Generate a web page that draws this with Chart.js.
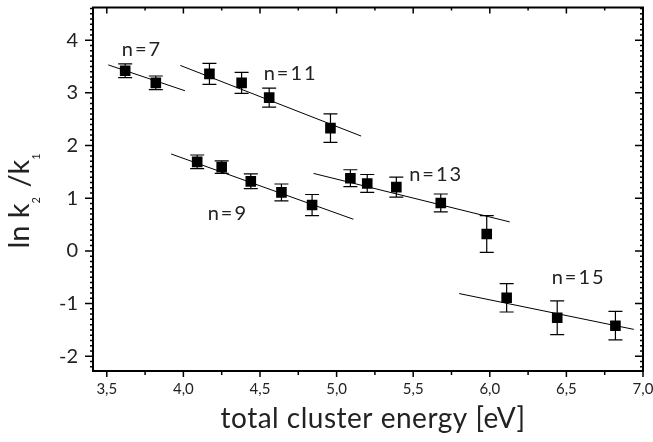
<!DOCTYPE html>
<html>
<head>
<meta charset="utf-8">
<script src="https://cdn.jsdelivr.net/npm/chart.js@4.4.0/dist/chart.umd.min.js"></script>
<style>
html, body { margin: 0; padding: 0; background: #fff; }
canvas { display: block; }
</style>
</head>
<body>
<canvas id="myChart" width="653" height="442"></canvas>
<script>
// values: total cluster energy [eV], ln k2/k1, error bar half height
const energy7 = [3.62, 3.82];
const lnk7 = [3.42, 3.19];
const err7 = [0.13, 0.13];
const fitX7 = [3.51, 4.01];
const fitY7 = [3.53, 3.04];

const energy9 = [4.09, 4.25, 4.44, 4.64, 4.84];
const lnk9 = [1.69, 1.59, 1.32, 1.11, 0.87];
const err9 = [0.13, 0.12, 0.14, 0.16, 0.2];
const fitX9 = [3.92, 5.11];
const fitY9 = [1.84, 0.60];

const energy11 = [4.17, 4.38, 4.56, 4.96];
const lnk11 = [3.36, 3.19, 2.91, 2.33];
const err11 = [0.2, 0.2, 0.18, 0.27];
const fitX11 = [3.98, 5.16];
const fitY11 = [3.52, 2.18];

const energy13 = [5.09, 5.20, 5.39, 5.68, 5.98];
const lnk13 = [1.38, 1.28, 1.21, 0.91, 0.32];
const err13 = [0.16, 0.17, 0.19, 0.17, 0.35];
const fitX13 = [4.85, 6.13];
const fitY13 = [1.47, 0.55];

const energy15 = [6.11, 6.44, 6.82];
const lnk15 = [-0.89, -1.27, -1.42];
const err15 = [0.27, 0.32, 0.27];
const fitX15 = [5.80, 6.94];
const fitY15 = [-0.81, -1.49];

const groupNames = ['n=7', 'n=9', 'n=11', 'n=13', 'n=15'];
const xTicks = [3.5, 4.0, 4.5, 5.0, 5.5, 6.0, 6.5, 7.0];
const yTicks = [-2, -1, 0, 1, 2, 3, 4];

// where the n= labels sit (data coords)
const labelAt = [[3.73, 3.83], [4.29, 0.70], [4.70, 3.36], [5.65, 1.45], [6.58, -0.51]];

const FONT = 'Lato, "DejaVu Sans", sans-serif';

function pts(xs, ys, es) {
    return xs.map((x, i) => ({x: x, y: ys[i], err: es ? es[i] : 0}));
}

const groups = [
    [energy7, lnk7, err7, fitX7, fitY7],
    [energy9, lnk9, err9, fitX9, fitY9],
    [energy11, lnk11, err11, fitX11, fitY11],
    [energy13, lnk13, err13, fitX13, fitY13],
    [energy15, lnk15, err15, fitX15, fitY15]
];

const datasets = [];
groups.forEach((g, i) => {
    datasets.push({
        label: groupNames[i] + ' fit',
        data: pts(g[3], g[4]),
        showLine: true,
        borderColor: '#000',
        borderWidth: 1,
        pointRadius: 0
    });
    datasets.push({
        label: groupNames[i],
        data: pts(g[0], g[1], g[2]),
        pointStyle: 'rect',
        pointRadius: 7.5,
        backgroundColor: '#000',
        borderWidth: 0,
        errorBars: true
    });
});

// error bars, drawn under the squares
const errorBarPlugin = {
    id: 'errorBars',
    beforeDatasetsDraw(chart) {
        const ctx = chart.ctx;
        const xs = chart.scales.x, ys = chart.scales.y;
        ctx.save();
        ctx.strokeStyle = '#000';
        ctx.lineWidth = 1.2;
        chart.data.datasets.forEach(ds => {
            if (!ds.errorBars) return;
            ds.data.forEach(p => {
                const px = xs.getPixelForValue(p.x);
                const y1 = ys.getPixelForValue(p.y + p.err);
                const y2 = ys.getPixelForValue(p.y - p.err);
                ctx.beginPath();
                ctx.moveTo(px, y1); ctx.lineTo(px, y2);
                ctx.moveTo(px - 7, y1); ctx.lineTo(px + 7, y1);
                ctx.moveTo(px - 7, y2); ctx.lineTo(px + 7, y2);
                ctx.stroke();
            });
        });
        ctx.restore();
    }
};

// frame, ticks on all four sides, labels and axis titles
const framePlugin = {
    id: 'frame',
    afterDraw(chart) {
        const ctx = chart.ctx;
        const a = chart.chartArea;
        const xs = chart.scales.x, ys = chart.scales.y;
        ctx.save();
        ctx.strokeStyle = '#000';
        ctx.lineWidth = 2;
        ctx.strokeRect(a.left, a.top, a.right - a.left, a.bottom - a.top);

        ctx.lineWidth = 1.5;
        ctx.beginPath();
        // x ticks: bottom outward, top inward
        for (let v = 3.25; v <= 7.001; v += 0.25) {
            if (v < xs.min) continue;
            const major = Math.abs(v * 2 - Math.round(v * 2)) < 1e-6;
            const px = xs.getPixelForValue(v);
            const len = major ? 6 : 4;
            ctx.moveTo(px, a.bottom); ctx.lineTo(px, a.bottom + len);
            ctx.moveTo(px, a.top); ctx.lineTo(px, a.top + (major ? 6 : 3));
        }
        // y ticks: left outward, right inward, minor every 0.1
        for (let k = -22; k <= 46; k++) {
            const v = k / 10;
            const major = k % 10 === 0;
            const py = ys.getPixelForValue(v);
            const len = major ? 8 : 3;
            ctx.moveTo(a.left, py); ctx.lineTo(a.left - len, py);
            ctx.moveTo(a.right, py); ctx.lineTo(a.right - len, py);
        }
        ctx.stroke();

        // n= labels
        ctx.fillStyle = '#222';
        ctx.font = '20px ' + FONT;
        ctx.letterSpacing = '2px';
        ctx.textAlign = 'center';
        ctx.textBaseline = 'middle';
        groupNames.forEach((t, i) => {
            ctx.fillText(t, xs.getPixelForValue(labelAt[i][0]), ys.getPixelForValue(labelAt[i][1]));
        });
        ctx.letterSpacing = '0px';

        // x title
        ctx.font = '28px ' + FONT;
        ctx.letterSpacing = '0.5px';
        ctx.textBaseline = 'alphabetic';
        ctx.fillText('total cluster energy [eV]', 373, 428);
        ctx.letterSpacing = '0px';

        // y title: ln k2/k1 with subscripts
        const parts = [['ln k', 29, 0], ['2', 11, 11], [' /k', 29, 0], ['1', 11, 11]];
        let total = 0;
        parts.forEach(p => { ctx.font = p[1] + 'px ' + FONT; total += ctx.measureText(p[0]).width + (p[1] < 20 ? 2 : 0); });
        ctx.translate(29, 200);
        ctx.rotate(-Math.PI / 2);
        ctx.textAlign = 'left';
        let cx = -total / 2;
        parts.forEach(p => {
            ctx.font = p[1] + 'px ' + FONT;
            ctx.fillText(p[0], cx, p[2]);
            cx += ctx.measureText(p[0]).width + (p[1] < 20 ? 2 : 0);
        });
        ctx.restore();
    }
};

const ctx = document.getElementById('myChart').getContext('2d');
const myChart = new Chart(ctx, {
    type: 'scatter',
    data: { datasets: datasets },
    plugins: [errorBarPlugin, framePlugin],
    options: {
        responsive: false,
        animation: false,
        layout: { padding: { top: 5, right: 10, left: 0, bottom: 0 } },
        plugins: { legend: { display: false }, tooltip: { enabled: false } },
        scales: {
            x: {
                type: 'linear',
                min: 3.41,
                max: 7.0,
                grid: { display: false, drawTicks: false },
                border: { display: false },
                afterBuildTicks: s => { s.ticks = xTicks.map(v => ({value: v})); },
                afterFit: s => { s.height = 71; s.paddingLeft = 0; s.paddingRight = 0; },
                ticks: {
                    padding: 9,
                    color: '#222',
                    font: { family: FONT, size: 15 },
                    maxRotation: 0,
                    callback: v => v.toFixed(1).replace('.', ',')
                }
            },
            y: {
                min: -2.28,
                max: 4.62,
                grid: { display: false, drawTicks: false },
                border: { display: false },
                afterBuildTicks: s => { s.ticks = yTicks.map(v => ({value: v})); },
                afterFit: s => { s.width = 93; s.paddingTop = 0; s.paddingBottom = 0; },
                ticks: {
                    padding: 15,
                    color: '#222',
                    font: { family: FONT, size: 20 },
                    callback: v => String(v)
                }
            }
        }
    }
});
</script>
</body>
</html>
